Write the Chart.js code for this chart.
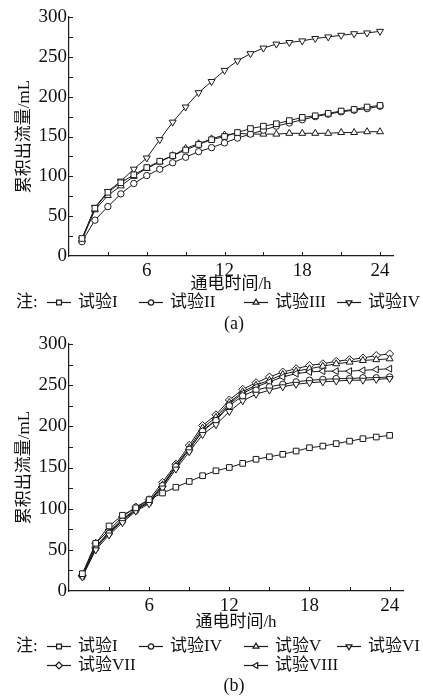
<!DOCTYPE html>
<html>
<head>
<meta charset="utf-8">
<script src="https://cdn.jsdelivr.net/npm/chart.js@4.4.0/dist/chart.umd.min.js"></script>
<style>
  body { margin: 0; background: #fff; width: 423px; height: 697px; position: relative; overflow: hidden;
         font-family: "Liberation Serif", "Noto Sans CJK SC", serif; color: #111; }
  .box { position: absolute; left: 0; width: 423px; }
  .row { position: absolute; left: 0; width: 423px; height: 20px; font-size: 17px; line-height: 20px; }
  .row span, .row canvas { position: absolute; }
  .cap { position: absolute; left: 0; width: 468px; text-align: center; font-size: 18px; line-height: 20px; }
</style>
</head>
<body>
<div class="box" style="top:0;height:296px"><canvas id="chartA"></canvas></div>
<div class="row" id="legendA0" style="top:292px"></div>
<div class="cap" style="top:313px">(a)</div>

<div class="box" style="top:328px;height:306px"><canvas id="chartB"></canvas></div>
<div class="row" id="legendB0" style="top:636px"></div>
<div class="row" id="legendB1" style="top:655px"></div>
<div class="cap" style="top:675px">(b)</div>

<script>
// 通电时间 (h)
const hours = [1, 2, 3, 4, 5, 6, 7, 8, 9, 10, 11, 12, 13, 14, 15, 16, 17, 18, 19, 20, 21, 22, 23, 24];

// (a) 累积出流量 (mL)
const a_I   = [22, 60, 80, 92, 102, 111, 119, 126, 133, 140, 146, 150, 155, 160, 163, 166, 170, 174, 176, 179, 182, 184, 187, 189];
const a_II  = [18, 45, 62, 78, 91, 101, 109, 117, 124, 131, 136, 142, 148, 153, 158, 163, 167, 171, 175, 178, 181, 183, 185, 188];
const a_III = [20, 58, 76, 88, 100, 110, 118, 126, 135, 141, 147, 152, 154, 153, 153, 153, 154, 154, 154, 154, 155, 155, 156, 156];
const a_IV  = [21, 61, 81, 94, 109, 123, 146, 168, 187, 205, 219, 233, 245, 254, 261, 266, 268, 270, 273, 275, 277, 279, 280, 282];

// (b) 累积出流量 (mL)
const b_I    = [21, 58, 79, 92, 101, 111, 119, 126, 133, 140, 146, 150, 155, 160, 163, 166, 170, 174, 176, 179, 182, 185, 187, 189];
const b_IV   = [18, 52, 70, 85, 98, 108, 128, 151, 172, 194, 207, 225, 237, 244, 248, 251, 254, 256, 257, 258, 258, 259, 259, 260];
const b_V    = [20, 54, 72, 87, 100, 109, 129, 152, 174, 198, 211, 229, 242, 250, 256, 263, 267, 270, 273, 276, 278, 280, 281, 282];
const b_VI   = [17, 50, 68, 83, 97, 106, 125, 148, 169, 190, 202, 218, 231, 239, 244, 248, 251, 253, 254, 255, 256, 256, 257, 258];
const b_VII  = [19, 58, 74, 90, 102, 111, 132, 154, 177, 201, 214, 232, 245, 253, 260, 266, 270, 274, 276, 279, 281, 283, 286, 288];
const b_VIII = [18, 53, 71, 86, 99, 108, 127, 151, 172, 195, 208, 227, 240, 248, 254, 260, 264, 266, 267, 267, 267, 268, 269, 270];

// axis ticks
const xTickLabels = [6, 12, 18, 24];
const yTickLabels = [0, 50, 100, 150, 200, 250, 300];
const xTickMarks = [3, 6, 9, 12, 15, 18, 21, 24];
const yTickMarks = [25, 50, 75, 100, 125, 150, 175, 200, 225, 250, 275, 300];

const INK = '#1a1a1a';
const serif = '"Liberation Serif", "Noto Sans CJK SC", serif';

const markers = {
    square:   { pointStyle: 'rect', rotation: 0, radius: 4 },
    circle:   { pointStyle: 'circle', rotation: 0, radius: 3.2 },
    up:       { pointStyle: 'triangle', rotation: 0, radius: 4 },
    down:     { pointStyle: 'triangle', rotation: 180, radius: 4 },
    diamond:  { pointStyle: 'rectRot', rotation: 0, radius: 4 },
    left:     { pointStyle: 'triangle', rotation: 270, radius: 4 }
};

const series = (label, data, m) => ({
    label: label,
    data: data,
    borderColor: INK,
    borderWidth: 1,
    pointStyle: markers[m].pointStyle,
    pointRotation: markers[m].rotation,
    pointRadius: markers[m].radius,
    pointBackgroundColor: '#fff',
    pointBorderColor: INK,
    pointBorderWidth: 1,
    marker: m
});

// inward tick marks along both axes
const innerTicks = {
    id: 'innerTicks',
    beforeDatasetsDraw(chart) {
        const { ctx, scales: { x, y } } = chart;
        ctx.save();
        ctx.strokeStyle = INK;
        ctx.lineWidth = 1;
        ctx.beginPath();
        xTickMarks.forEach(v => {
            const px = Math.round(x.getPixelForValue(v)) + 0.5;
            ctx.moveTo(px, y.bottom);
            ctx.lineTo(px, y.bottom - 4);
        });
        yTickMarks.forEach(v => {
            const py = Math.round(y.getPixelForValue(v)) + 0.5;
            ctx.moveTo(x.left, py);
            ctx.lineTo(x.left + 4, py);
        });
        ctx.stroke();
        ctx.restore();
    }
};

function makeChart(id, datasets, box) {
    return new Chart(document.getElementById(id), {
        type: 'line',
        data: { labels: hours, datasets: datasets },
        plugins: [innerTicks],
        options: {
            responsive: true,
            maintainAspectRatio: false,
            animation: false,
            layout: { padding: { top: box.top, right: box.right, bottom: 0, left: 0 } },
            plugins: { legend: { display: false }, tooltip: { enabled: false } },
            elements: { line: { tension: 0 } },
            scales: {
                x: {
                    type: 'linear',
                    min: 0,
                    max: 25,
                    afterBuildTicks: s => { s.ticks = xTickLabels.map(v => ({ value: v })); },
                    afterFit: s => { s.height = box.xHeight; },
                    grid: { display: false, drawTicks: false },
                    border: { display: true, color: INK, width: 1.2 },
                    ticks: { color: '#111', font: { family: serif, size: 19 }, padding: 4, maxRotation: 0 },
                    title: { display: true, text: '通电时间/h', color: '#111',
                             font: { family: serif, size: 17 }, padding: { top: 0, bottom: 1 } }
                },
                y: {
                    min: 0,
                    max: 300,
                    afterBuildTicks: s => { s.ticks = yTickLabels.map(v => ({ value: v })); },
                    afterFit: s => { s.width = 69; },
                    grid: { display: false, drawTicks: false },
                    border: { display: true, color: INK, width: 1.2 },
                    ticks: { color: '#111', font: { family: serif, size: 19 }, padding: 2 },
                    title: { display: true, text: '累积出流量/mL', color: '#111',
                             font: { family: serif, size: 17 }, padding: { top: 14, bottom: 0 } }
                }
            }
        }
    });
}

const chartA = makeChart('chartA', [
    series('试验I', a_I, 'square'),
    series('试验II', a_II, 'circle'),
    series('试验III', a_III, 'up'),
    series('试验IV', a_IV, 'down')
], { top: 17, right: 30, xHeight: 40 });

const chartB = makeChart('chartB', [
    series('试验I', b_I, 'square'),
    series('试验VI', b_VI, 'down'),
    series('试验IV', b_IV, 'circle'),
    series('试验VIII', b_VIII, 'left'),
    series('试验V', b_V, 'up'),
    series('试验VII', b_VII, 'diamond')
], { top: 16, right: 20, xHeight: 43 });

// legend: [row, column] per label
const slotLeft = [47, 139, 244, 337];
const legendSlotsA = { '试验I': [0, 0], '试验II': [0, 1], '试验III': [0, 2], '试验IV': [0, 3] };
const legendSlotsB = { '试验I': [0, 0], '试验IV': [0, 1], '试验V': [0, 2], '试验VI': [0, 3],
                       '试验VII': [1, 0], '试验VIII': [1, 2] };

function buildLegend(chart, prefix, slots) {
    const first = document.getElementById(prefix + '0');
    const note = document.createElement('span');
    note.textContent = '注:';
    note.style.left = '16px';
    first.appendChild(note);
    chart.data.datasets.forEach(ds => {
        const [r, c] = slots[ds.label];
        const row = document.getElementById(prefix + r);
        const cv = document.createElement('canvas');
        cv.width = 24; cv.height = 12;
        cv.style.left = slotLeft[c] + 'px';
        cv.style.top = '4px';
        const ctx = cv.getContext('2d');
        ctx.strokeStyle = INK;
        ctx.lineWidth = 1.2;
        ctx.beginPath(); ctx.moveTo(0, 6.5); ctx.lineTo(24, 6.5); ctx.stroke();
        ctx.fillStyle = '#fff';
        const m = markers[ds.marker];
        Chart.helpers.drawPoint(ctx, { pointStyle: m.pointStyle, rotation: m.rotation,
                                       radius: m.radius - 0.6, borderWidth: 1 }, 12, 6.5);
        row.appendChild(cv);
        const t = document.createElement('span');
        t.textContent = ds.label;
        t.style.left = (slotLeft[c] + 31) + 'px';
        row.appendChild(t);
    });
}

buildLegend(chartA, 'legendA', legendSlotsA);
buildLegend(chartB, 'legendB', legendSlotsB);
</script>
</body>
</html>
